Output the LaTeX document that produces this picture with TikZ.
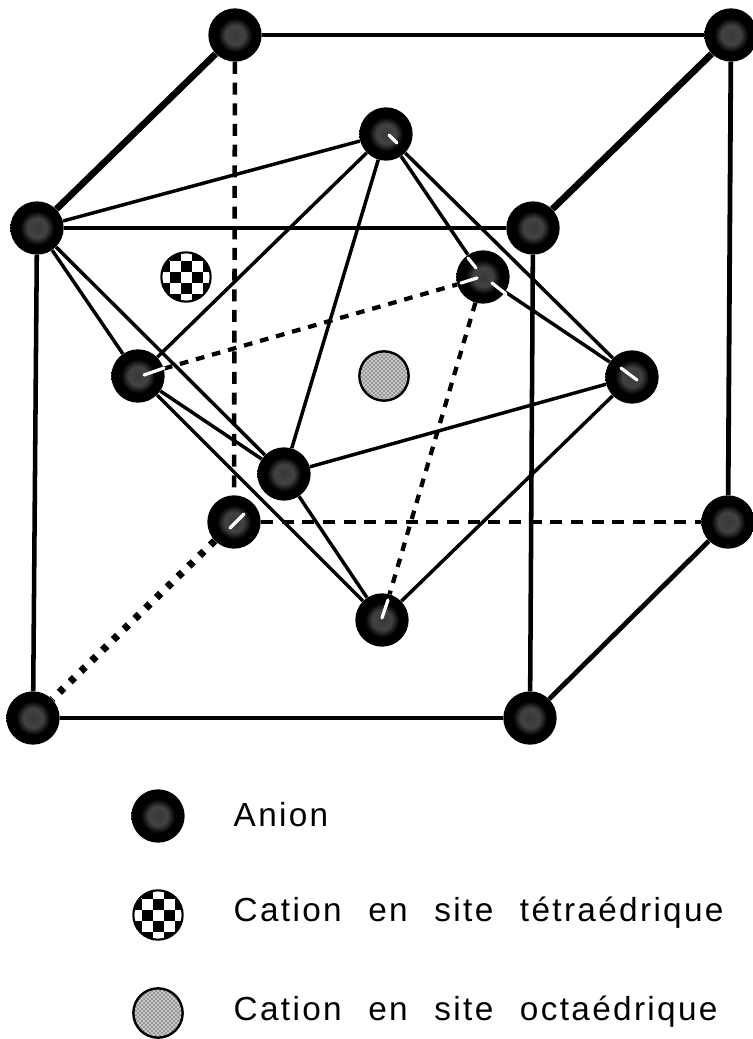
\documentclass[tikz,border=0pt]{standalone}
\usepackage{fontspec}
\setmainfont[WordSpace=2.3,LetterSpace=7]{Liberation Sans}
\usetikzlibrary{backgrounds,patterns}
\pgfdeclareradialshading{atomcore}{\pgfpointorigin}{color(0bp)=(black!78); color(9bp)=(black!74); color(16bp)=(black); color(50bp)=(black)}
\tikzset{
    anion/.style={circle, minimum size=40pt, inner sep=0pt, draw=none, shading=atomcore},
    tetra/.style={circle, minimum size=37pt, inner sep=0pt, draw=black, line width=1.6pt, fill=white,
        path picture={
            \foreach \row in {-3,...,3} {
                \foreach \col in {-3,...,3} {
                    \pgfmathtruncatemacro{\odd}{mod(\row+\col+10,2)}
                    \ifnum\odd=1
                        \fill[black] ([shift={(\col*11-5.5,\row*11-5.5)}]path picture bounding box.center) rectangle ++(11,11);
                    \fi
                }
            }
        }},
    octa/.style={circle, minimum size=37pt, inner sep=0pt, draw=black, line width=1.8pt,
        preaction={fill=black!22}, pattern=crosshatch dots, pattern color=black},
    edgeback/.style={line width=3.6pt},
    edgefront/.style={line width=3.4pt},
    edgeocta/.style={line width=2.6pt},
    edgedash/.style={line width=3.4pt, dash pattern=on 9pt off 6.5pt},
    edgedashthin/.style={line width=3.2pt, dash pattern=on 6.5pt off 6pt},
    edgedot/.style={line width=5.5pt, dash pattern=on 4.5pt off 6.8pt},
    glint/.style={white, line width=2.4pt, line cap=round},
    legend/.style={anchor=west, font=\fontsize{25pt}{29pt}\selectfont}
}
\begin{document}
\begin{tikzpicture}[x=0.75pt,y=-0.75pt]
\useasboundingbox (0,0) rectangle (753,1039);

% -------------------------
% Cube
% -------------------------
\node[anion] (backTL) at (235,35) {};
\node[anion] (backTR) at (731,35) {};
\node[anion] (backBL) at (234,522) {};
\node[anion] (backBR) at (728,522) {};
\node[anion] (frontTL) at (37,228) {};
\node[anion] (frontTR) at (533,228) {};
\node[anion] (frontBL) at (33,718) {};
\node[anion] (frontBR) at (530,718) {};

% -------------------------
% Octaedre
% -------------------------
\node[anion] (apexT) at (386,134) {};
\node[anion] (apexB) at (382,620) {};
\node[anion] (vertL) at (138,376) {};
\node[anion] (vertF) at (284,474) {};
\node[anion] (vertR) at (632,377) {};
\node[anion] (vertK) at (483,277) {};

% -------------------------
% Cations
% -------------------------
\node[tetra] (siteT) at (186,277) {};
\node[octa] (siteO) at (384,376) {};

% -------------------------
% Legende
% -------------------------
\node[anion] (keyA) at (158,816) {};
\node[tetra] (keyT) at (158,915) {};
\node[octa] (keyO) at (158,1013) {};
\node[legend] (txtA) at (229,815) {Anion};
\node[legend] (txtT) at (229,913) {Cation en site tétraédrique};
\node[legend] (txtO) at (229,1012) {Cation en site octaédrique};

% -------------------------
% Aretes
% -------------------------
\begin{scope}[on background layer]
    \draw[edgeback] (backTL) -- (backTR);
    \draw[edgeback, line width=5pt] (backTL) -- (frontTL);
    \draw[edgeback, line width=5pt] (backTR) -- (frontTR);
    \draw[edgeback] (backTR) -- (backBR);
    \draw[edgeback] (backBR) -- (frontBR);
    \foreach \from/\to in {frontTL/frontTR, frontTR/frontBR, frontBR/frontBL, frontBL/frontTL} {
        \draw[edgefront] (\from) -- (\to);
    }
    \foreach \from/\to in {frontTL/apexT, frontTL/vertL, frontTL/vertF, apexT/vertL, apexT/vertF,
        apexT/vertR, apexT/vertK, vertK/vertR, vertL/vertF, vertL/apexB, vertF/apexB,
        vertF/vertR, vertR/apexB} {
        \draw[edgeocta] (\from) -- (\to);
    }
    \foreach \from/\to in {backTL/backBL, backBL/backBR} {
        \draw[edgedash] (\from) -- (\to);
    }
    \foreach \from/\to in {vertL/vertK, vertK/apexB} {
        \draw[edgedashthin] (\from) -- (\to);
    }
    \draw[edgedot] (backBL) -- (frontBL);
\end{scope}

% -------------------------
% Reflets
% -------------------------
\draw[glint] (vertL.center) ++(6,-1) -- ++(20,-7);
\draw[glint] (vertK.center) ++(-6,1) -- ++(-16,5);
\draw[glint] (vertK.center) ++(-7,-9) -- ++(-8,-10);
\draw[glint] (vertK.center) ++(9,6) -- ++(14,11);
\draw[glint] (apexT.center) ++(3,1) -- ++(8,8);
\draw[glint] (vertR.center) ++(-11,-9) -- ++(16,12);
\draw[glint] (apexB.center) ++(0,-2) -- ++(6,-18);
\draw[glint] (backBL.center) ++(-4,6) -- ++(14,-14);
\end{tikzpicture}
\end{document}
